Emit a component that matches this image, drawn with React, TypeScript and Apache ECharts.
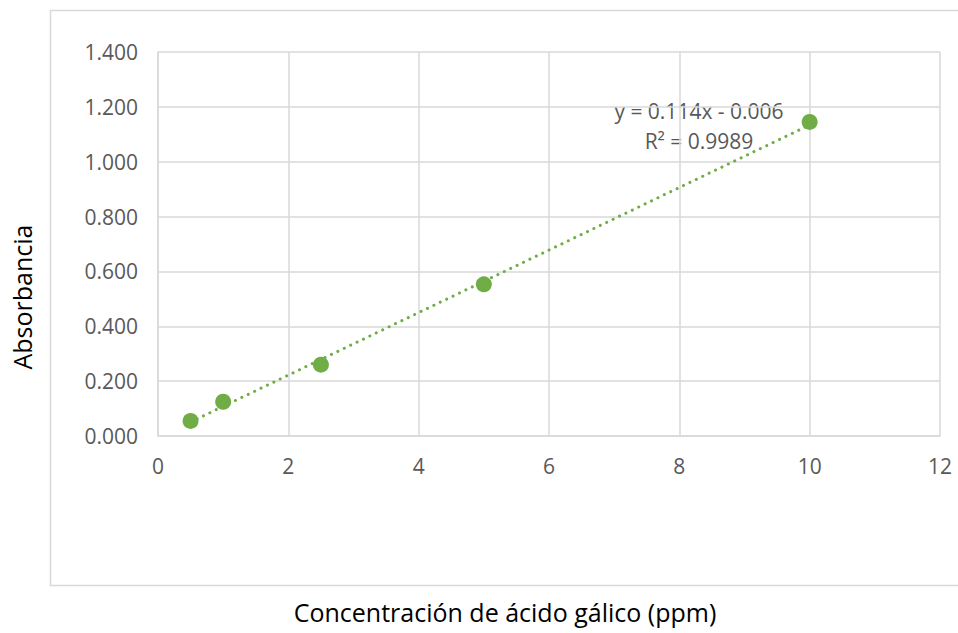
import React, { useEffect, useRef } from "react";
import * as echarts from "echarts";

const concentrations = [0.5, 1, 2.5, 5, 10];
const absorbances = [0.055, 0.125, 0.26, 0.553, 1.145];
const slope = 0.114;
const intercept = -0.006;
const equationLines = ["y = 0.114x - 0.006", "R² = 0.9989"];
const xTitle = "Concentración de ácido gálico (ppm)";
const yTitle = "Absorbancia";

const GREEN = "#70AD47";
const FONT = "'Open Sans', Lato, sans-serif";

export default function App() {
  const ref = useRef<HTMLDivElement>(null);
  useEffect(() => {
    const chart = echarts.init(ref.current!, null, { renderer: "svg" });
    const xs = [concentrations[0], concentrations[concentrations.length - 1]];
    const trend = xs.map((x) => [x, slope * x + intercept]);
    chart.setOption({
      animation: false,
      backgroundColor: "#fff",
      textStyle: { fontFamily: FONT },
      grid: { left: 158, top: 52, right: 18, bottom: 197, containLabel: false },
      xAxis: {
        type: "value",
        min: 0,
        max: 12,
        interval: 2,
        axisLine: { show: true, lineStyle: { color: "#d9d9d9", width: 1.5 } },
        axisTick: { show: false },
        axisLabel: { color: "#595959", fontSize: 21, fontFamily: FONT, margin: 19 },
        splitLine: { show: true, lineStyle: { color: "#d9d9d9", width: 1.5 } },
      },
      yAxis: {
        type: "value",
        min: 0,
        max: 1.4,
        interval: 0.2,
        axisLine: { show: true, lineStyle: { color: "#d9d9d9", width: 1.5 } },
        axisTick: { show: false },
        axisLabel: {
          color: "#595959",
          fontSize: 21,
          fontFamily: FONT,
          margin: 20,
          formatter: (v: number) => v.toFixed(3),
        },
        splitLine: { show: true, lineStyle: { color: "#d9d9d9", width: 1.5 } },
      },
      graphic: [
        {
          type: "rect",
          shape: { x: 50.5, y: 10.5, width: 920, height: 575 },
          style: { fill: "none", stroke: "#d9d9d9", lineWidth: 1.5 },
          silent: true,
        },
        {
          type: "text",
          x: 505,
          y: 612,
          style: {
            text: xTitle,
            fontSize: 25,
            fontFamily: FONT,
            fill: "#000",
            textAlign: "center",
            textVerticalAlign: "middle",
          },
        },
        {
          type: "text",
          x: 22,
          y: 297,
          rotation: Math.PI / 2,
          style: {
            text: yTitle,
            fontSize: 25,
            fontFamily: FONT,
            fill: "#000",
            textAlign: "center",
            textVerticalAlign: "middle",
          },
        },
        {
          type: "text",
          x: 699,
          y: 111,
          style: {
            text: equationLines[0],
            fontSize: 21,
            fontFamily: FONT,
            fill: "#595959",
            textAlign: "center",
            textVerticalAlign: "middle",
          },
        },
        {
          type: "text",
          x: 699,
          y: 141,
          style: {
            text: equationLines[1],
            fontSize: 21,
            fontFamily: FONT,
            fill: "#595959",
            textAlign: "center",
            textVerticalAlign: "middle",
          },
        },
      ],
      series: [
        {
          type: "line",
          data: trend,
          showSymbol: false,
          symbol: "none",
          lineStyle: { color: GREEN, width: 3, type: [0.1, 7], cap: "round" },
          silent: true,
          z: 2,
        },
        {
          type: "scatter",
          data: concentrations.map((x, i) => [x, absorbances[i]]),
          symbol: "circle",
          symbolSize: 16,
          itemStyle: { color: GREEN, opacity: 1 },
          z: 3,
        },
      ],
    });
    return () => chart.dispose();
  }, []);
  return (
    <div
      ref={ref}
      style={{ position: "fixed", left: 0, top: 0, width: 958, height: 633 }}
    />
  );
}
